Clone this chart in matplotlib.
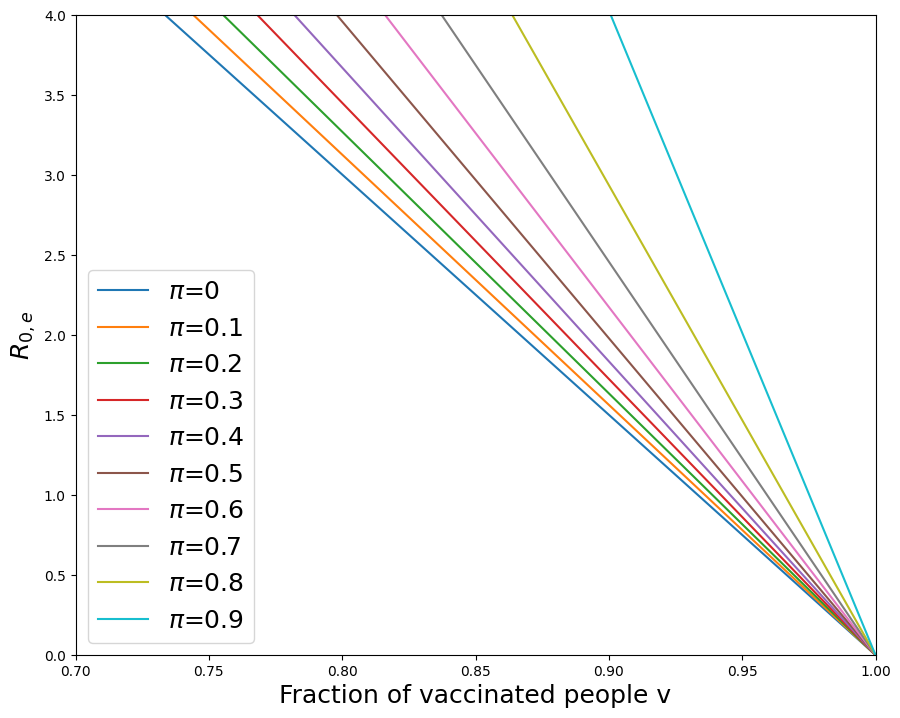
import numpy as np
import matplotlib
matplotlib.use("Agg")
import matplotlib.pyplot as plt

# pi values and the fraction v where each line leaves the top of the plot (R=4)
pis = ['0', '0.1', '0.2', '0.3', '0.4', '0.5', '0.6', '0.7', '0.8', '0.9']
v_top = [0.7336, 0.7442, 0.7554, 0.7682, 0.7821, 0.7980, 0.8161, 0.8373, 0.8638, 0.9007]
r_top = 4.0
v_end = 1.0
r_end = 0.0

fig = plt.figure(figsize=(9, 7.18), dpi=100)
ax = fig.add_axes([0.0839, 0.0877, 0.8889, 0.8914])

for p, v0 in zip(pis, v_top):
    ax.plot([v0, v_end], [r_top, r_end], label=r'$\pi$=' + p)

ax.set_xlim(0.70, 1.00)
ax.set_ylim(0, 4)
ax.set_xlabel('Fraction of vaccinated people v', fontsize=18)
ax.set_ylabel(r'$R_{0,e}$', fontsize=18)
ax.legend(fontsize=18, loc='lower left')

fig.savefig('out.png', dpi=100)
